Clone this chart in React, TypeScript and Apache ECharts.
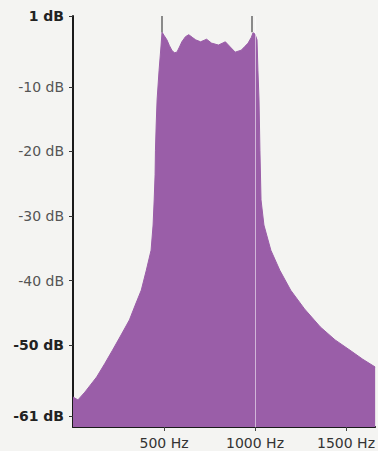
import React, { useEffect, useRef } from "react";
import * as echarts from "echarts";

const freqHz = [0, 27, 65, 130, 174, 217, 261, 310, 342, 375, 402, 429, 440, 446, 451, 453, 457, 462, 473, 484, 489, 500, 516, 530, 543, 557, 571, 585, 598, 618, 636, 655, 674, 701, 734, 761, 799, 837, 864, 891, 924, 945, 962, 980, 989, 1000, 1011, 1016, 1022, 1027, 1033, 1049, 1087, 1136, 1196, 1272, 1359, 1440, 1522, 1592, 1660];
const levelDb = [-58.05, -58.5, -57.3, -54.95, -52.9, -50.8, -48.6, -46.1, -43.8, -41.5, -38.5, -35.3, -31.4, -27.5, -23.6, -19.8, -15.9, -12.0, -7.4, -3.5, -1.5, -2.0, -2.7, -3.6, -4.3, -4.7, -4.6, -3.8, -3.0, -2.2, -1.9, -2.3, -2.7, -3.0, -2.6, -3.2, -3.5, -3.0, -3.8, -4.6, -4.3, -3.7, -3.2, -2.3, -1.6, -1.8, -2.7, -7.4, -12.0, -19.8, -27.5, -31.4, -35.3, -38.4, -41.5, -44.4, -47.2, -49.2, -50.8, -52.2, -53.4];

const yTickValues = [1, -10, -20, -30, -40, -50, -61];
const boldYTicks = [1, -50, -61];
const xTickValues = [500, 1000, 1500];
const cutoffHz = 1000;
const edgeSpikesHz = [489, 984];

const PURPLE = "#9a5ea8";

export default function App() {
  const ref = useRef<HTMLDivElement>(null);
  useEffect(() => {
    if (!ref.current) return;
    const chart = echarts.init(ref.current, undefined, { renderer: "svg" });
    chart.setOption({
      animation: false,
      backgroundColor: "#f4f4f2",
      grid: { left: 73, right: 0, top: 16, bottom: 24 },
      xAxis: {
        type: "value",
        min: 0,
        max: 1660,
        splitLine: { show: false },
        axisLine: { show: true, onZero: false, lineStyle: { color: "#1a1a1a", width: 2 } },
        axisTick: { show: true, customValues: xTickValues, length: 4, lineStyle: { color: "#444" } },
        axisLabel: {
          customValues: xTickValues,
          formatter: (v: number) => v + " Hz",
          color: "#333",
          fontFamily: "DejaVu Sans",
          fontSize: 14,
          margin: 9,
        },
      },
      yAxis: {
        type: "value",
        min: -62.7,
        max: 1,
        splitLine: { show: false },
        axisLine: { show: true, lineStyle: { color: "#1a1a1a", width: 2 } },
        axisTick: { show: true, customValues: yTickValues, length: 4, lineStyle: { color: "#333" } },
        axisLabel: {
          customValues: yTickValues,
          formatter: (v: number) =>
            boldYTicks.indexOf(v) >= 0 ? "{b|" + v + " dB}" : "{n|" + v + " dB}",
          margin: 9,
          rich: {
            b: { color: "#222", fontWeight: "bold", fontFamily: "DejaVu Sans", fontSize: 14 },
            n: { color: "#555", fontFamily: "DejaVu Sans", fontSize: 14 },
          },
        },
      },
      series: [
        {
          type: "line",
          data: freqHz.map((f, i) => [f, levelDb[i]]),
          showSymbol: false,
          symbol: "none",
          lineStyle: { color: PURPLE, width: 1 },
          areaStyle: { color: PURPLE, opacity: 1, origin: "start" },
          markLine: {
            silent: true,
            symbol: "none",
            label: { show: false },
            data: [
              {
                xAxis: cutoffHz,
                lineStyle: { color: "rgba(255,255,255,0.55)", width: 1, type: "solid" },
              },
              ...edgeSpikesHz.map((h) => [
                { coord: [h, 1], lineStyle: { color: "#8a8a8a", width: 2, type: "solid" } },
                { coord: [h, -1.5] },
              ]),
            ],
          },
        },
      ],
    });
    return () => chart.dispose();
  }, []);
  return (
    <div
      ref={ref}
      style={{ position: "fixed", left: 0, top: 0, width: 378, height: 451 }}
    />
  );
}
